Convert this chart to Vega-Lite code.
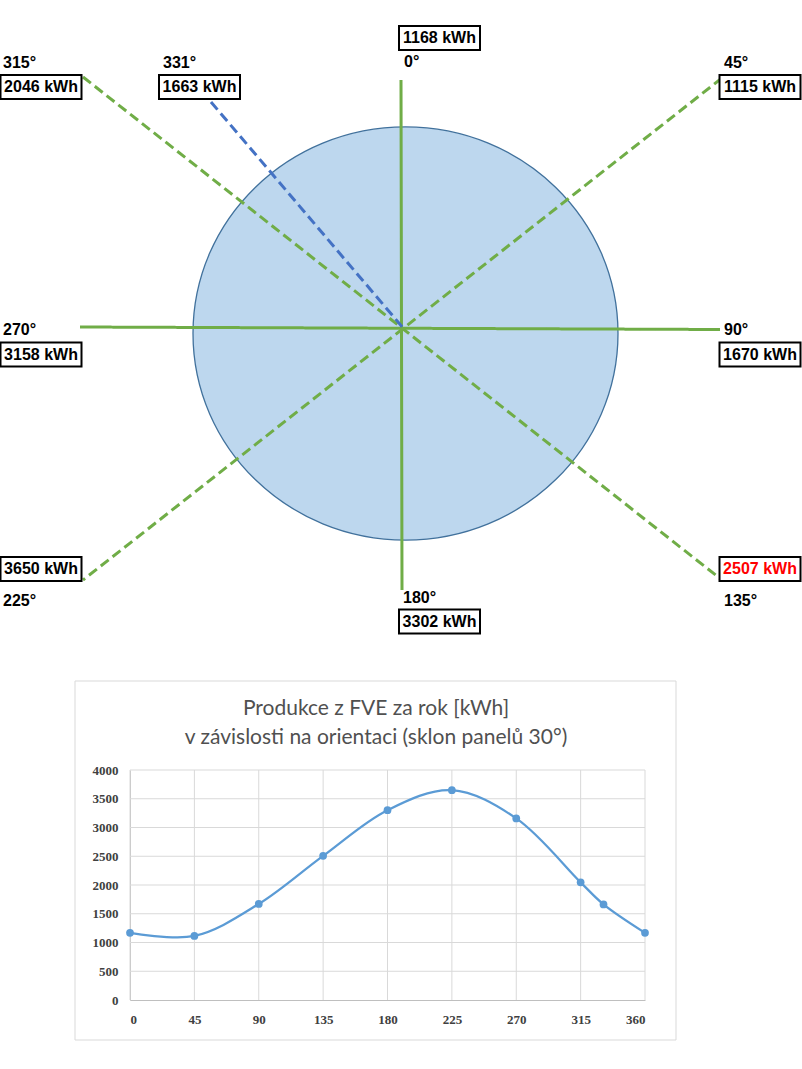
{
  "$schema": "https://vega.github.io/schema/vega-lite/v6.json",
  "width": 802,
  "height": 1069,
  "padding": 0,
  "autosize": {"type": "none"},
  "background": "white",
  "config": {"view": {"stroke": null}},
  "datasets": {
    "disk": [{"x": 4.5, "y": -3.5}],
    "rays": [
      {"dir": "0°–180°", "x": 0, "y": 250, "x2": 1, "y2": -260, "kind": "main"},
      {"dir": "270°–90°", "x": -321, "y": 3, "x2": 319, "y2": 0.5, "kind": "main"},
      {"dir": "45°–225°", "x": 321, "y": 252, "x2": -318, "y2": -250, "kind": "diagonal"},
      {"dir": "315°–135°", "x": -318, "y": 253, "x2": 321, "y2": -250, "kind": "diagonal"},
      {"dir": "331°", "x": -190, "y": 228, "x2": 3, "y2": 1, "kind": "actual"}
    ],
    "orientations": [
      {"angle": 0, "kwh": 1168, "deg": "0°", "text": "1168 kWh", "dx": 3, "dy": 268, "bx": 38.5, "by": 292},
      {"angle": 45, "kwh": 1115, "deg": "45°", "text": "1115 kWh", "dx": 323, "dy": 267, "bx": 359, "by": 243},
      {"angle": 90, "kwh": 1670, "deg": "90°", "text": "1670 kWh", "dx": 323, "dy": 0, "bx": 359, "by": -24.5},
      {"angle": 135, "kwh": 2507, "deg": "135°", "text": "2507 kWh", "dx": 323, "dy": -271, "bx": 359, "by": -239},
      {"angle": 180, "kwh": 3302, "deg": "180°", "text": "3302 kWh", "dx": 2, "dy": -268, "bx": 38.5, "by": -291.5},
      {"angle": 225, "kwh": 3650, "deg": "225°", "text": "3650 kWh", "dx": -398, "dy": -271, "bx": -360, "by": -239},
      {"angle": 270, "kwh": 3158, "deg": "270°", "text": "3158 kWh", "dx": -398, "dy": 0, "bx": -360, "by": -24.5},
      {"angle": 315, "kwh": 2046, "deg": "315°", "text": "2046 kWh", "dx": -398, "dy": 267, "bx": -360, "by": 243},
      {"angle": 331, "kwh": 1663, "deg": "331°", "text": "1663 kWh", "dx": -238, "dy": 267, "bx": -201.5, "by": 243}
    ],
    "frame": [{"x": -326, "y": -351, "x2": 275, "y2": -710}],
    "titles": [
      {"line": "Produkce z FVE za rok [kWh]", "x": -25, "y": -379},
      {"line": "v závislosti na orientaci (sklon panelů 30°)", "x": -25, "y": -408}
    ],
    "xticks": [{"angle": 0}, {"angle": 45}, {"angle": 90}, {"angle": 135}, {"angle": 180}, {"angle": 225}, {"angle": 270}, {"angle": 315}, {"angle": 360}],
    "yticks": [{"kwh": 500}, {"kwh": 1000}, {"kwh": 1500}, {"kwh": 2000}, {"kwh": 2500}, {"kwh": 3000}, {"kwh": 3500}, {"kwh": 4000}],
    "production": [
      {"angle": 0, "kwh": 1168},
      {"angle": 45, "kwh": 1115},
      {"angle": 90, "kwh": 1670},
      {"angle": 135, "kwh": 2507},
      {"angle": 180, "kwh": 3302},
      {"angle": 225, "kwh": 3650},
      {"angle": 270, "kwh": 3158},
      {"angle": 315, "kwh": 2046},
      {"angle": 331, "kwh": 1663},
      {"angle": 360, "kwh": 1168}
    ]
  },
  "layer": [
    {
      "layer": [
        {
          "data": {"name": "frame"},
          "mark": {"type": "rect", "fill": null, "fillOpacity": 0, "stroke": "#D9D9D9", "strokeWidth": 1},
          "encoding": {
            "x": {"field": "x", "type": "quantitative", "scale": {"domain": [-401, 401]}, "axis": null},
            "x2": {"field": "x2"},
            "y": {"field": "y", "type": "quantitative", "scale": {"domain": [-739, 330]}, "axis": null},
            "y2": {"field": "y2"}
          }
        },
        {
          "data": {"name": "disk"},
          "mark": {"type": "point", "shape": "M -1 0 A 1 0.972 0 1 0 1 0 A 1 0.972 0 1 0 -1 0 Z", "size": 180625, "filled": true, "fill": "#BDD7EE", "stroke": "#41719C", "strokeWidth": 1.3, "opacity": 1},
          "encoding": {
            "x": {"field": "x", "type": "quantitative", "scale": {"domain": [-401, 401]}, "axis": null},
            "y": {"field": "y", "type": "quantitative", "scale": {"domain": [-739, 330]}, "axis": null}
          }
        },
        {
          "data": {"name": "rays"},
          "mark": {"type": "rule", "strokeWidth": 3},
          "encoding": {
            "x": {"field": "x", "type": "quantitative", "scale": {"domain": [-401, 401]}, "axis": null},
            "x2": {"field": "x2"},
            "y": {"field": "y", "type": "quantitative", "scale": {"domain": [-739, 330]}, "axis": null},
            "y2": {"field": "y2"},
            "color": {"field": "kind", "type": "nominal", "scale": {"domain": ["main", "diagonal", "actual"], "range": ["#70AD47", "#70AD47", "#4472C4"]}, "legend": null},
            "strokeDash": {"field": "kind", "type": "nominal", "scale": {"domain": ["main", "diagonal", "actual"], "range": [[1, 0], [10, 5], [10, 5]]}, "legend": null}
          }
        },
        {
          "data": {"name": "orientations"},
          "mark": {"type": "point", "shape": "M -1 -0.296 L 1 -0.296 L 1 0.296 L -1 0.296 Z", "size": 6561, "filled": true, "fill": "white", "stroke": "black", "strokeWidth": 2, "opacity": 1},
          "encoding": {
            "x": {"field": "bx", "type": "quantitative", "scale": {"domain": [-401, 401]}, "axis": null},
            "y": {"field": "by", "type": "quantitative", "scale": {"domain": [-739, 330]}, "axis": null}
          }
        },
        {
          "data": {"name": "orientations"},
          "mark": {"type": "text", "align": "center", "baseline": "middle", "font": "Liberation Sans", "fontWeight": "bold", "fontSize": 16},
          "encoding": {
            "x": {"field": "bx", "type": "quantitative", "scale": {"domain": [-401, 401]}, "axis": null},
            "y": {"field": "by", "type": "quantitative", "scale": {"domain": [-739, 330]}, "axis": null},
            "text": {"field": "text"},
            "color": {"condition": {"test": "datum.angle === 135", "value": "#FF0000"}, "value": "#000000"}
          }
        },
        {
          "data": {"name": "orientations"},
          "mark": {"type": "text", "align": "left", "baseline": "middle", "font": "Liberation Sans", "fontWeight": "bold", "fontSize": 16, "color": "#000000"},
          "encoding": {
            "x": {"field": "dx", "type": "quantitative", "scale": {"domain": [-401, 401]}, "axis": null},
            "y": {"field": "dy", "type": "quantitative", "scale": {"domain": [-739, 330]}, "axis": null},
            "text": {"field": "deg"}
          }
        },
        {
          "data": {"name": "titles"},
          "mark": {"type": "text", "align": "center", "baseline": "middle", "font": "Lato", "fontSize": 21, "color": "#505050"},
          "encoding": {
            "x": {"field": "x", "type": "quantitative", "scale": {"domain": [-401, 401]}, "axis": null},
            "y": {"field": "y", "type": "quantitative", "scale": {"domain": [-739, 330]}, "axis": null},
            "text": {"field": "line"}
          }
        }
      ]
    },
    {
      "data": {"name": "xticks"},
      "mark": {"type": "rule", "color": "#D9D9D9", "strokeWidth": 1},
      "encoding": {
        "x": {"field": "angle", "type": "quantitative", "scale": {"domain": [0, 360], "range": [130, 645], "nice": false, "zero": false}, "axis": null},
        "y": {"datum": 0, "type": "quantitative", "scale": {"domain": [0, 4000], "range": [1000, 770], "nice": false}, "axis": null},
        "y2": {"datum": 4000}
      }
    },
    {
      "data": {"name": "yticks"},
      "mark": {"type": "rule", "color": "#D9D9D9", "strokeWidth": 1},
      "encoding": {
        "y": {"field": "kwh", "type": "quantitative", "scale": {"domain": [0, 4000], "range": [1000, 770], "nice": false}, "axis": null},
        "x": {"datum": 0, "type": "quantitative", "scale": {"domain": [0, 360], "range": [130, 645], "nice": false, "zero": false}, "axis": null},
        "x2": {"datum": 360}
      }
    },
    {
      "data": {"name": "production"},
      "encoding": {
        "x": {
          "field": "angle", "type": "quantitative",
          "scale": {"domain": [0, 360], "range": [130, 645], "nice": false, "zero": false},
          "axis": {
            "values": [0, 45, 90, 135, 180, 225, 270, 315, 360],
            "format": "d",
            "offset": -69, "title": null, "grid": false,
            "domainColor": "#BFBFBF", "ticks": false, "labelPadding": 13,
            "labelFont": "Liberation Serif", "labelFontWeight": "bold", "labelFontSize": 13, "labelColor": "#404040"
          }
        },
        "y": {
          "field": "kwh", "type": "quantitative",
          "scale": {"domain": [0, 4000], "range": [1000, 770], "nice": false},
          "axis": {
            "values": [0, 500, 1000, 1500, 2000, 2500, 3000, 3500, 4000],
            "format": "d",
            "offset": -130, "title": null, "grid": false,
            "domainColor": "#BFBFBF", "ticks": false, "labelPadding": 12,
            "labelFont": "Liberation Serif", "labelFontWeight": "bold", "labelFontSize": 13, "labelColor": "#404040"
          }
        }
      },
      "layer": [
        {"mark": {"type": "line", "interpolate": "catmull-rom", "color": "#5B9BD5", "strokeWidth": 2.25}},
        {"mark": {"type": "point", "filled": true, "color": "#5B9BD5", "size": 60, "opacity": 1}}
      ]
    }
  ],
  "resolve": {"scale": {"x": "independent", "y": "independent"}}
}
